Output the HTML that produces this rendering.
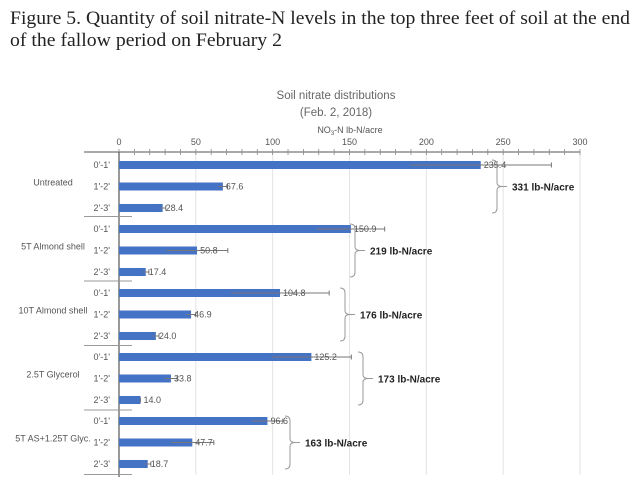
<!DOCTYPE html>
<html><head><meta charset="utf-8">
<style>
body{margin:0;background:#fff;width:640px;height:497px;overflow:hidden}
svg{display:block}
.t{font-family:"Liberation Sans",sans-serif;fill:#555;font-size:9px}
</style></head>
<body>
<svg id="chart" width="640" height="497">
<text x="10" y="24" font-family="Liberation Serif,serif" font-size="19" fill="#222" textLength="620" lengthAdjust="spacingAndGlyphs">Figure 5. Quantity of soil nitrate-N levels in the top three feet of soil at the end</text>
<text x="10" y="46" font-family="Liberation Serif,serif" font-size="19" fill="#222" textLength="272" lengthAdjust="spacingAndGlyphs">of the fallow period on February 2</text>
<text x="336" y="99" text-anchor="middle" font-family="Liberation Sans,sans-serif" font-size="11.5" fill="#666">Soil nitrate distributions</text>
<text x="336" y="116" text-anchor="middle" font-family="Liberation Sans,sans-serif" font-size="11.5" fill="#666">(Feb. 2, 2018)</text>
<text x="350" y="133" text-anchor="middle" class="t" font-size="8">NO<tspan font-size="6" dy="2">3</tspan><tspan dy="-2">-N lb-N/acre</tspan></text>
<g id="plot"></g>
</svg>
<script>
const groups=["Untreated","5T Almond shell","10T Almond shell","2.5T Glycerol","5T AS+1.25T Glyc."];
const depths=["0'-1'","1'-2'","2'-3'"];
const values=[235.4,67.6,28.4,150.9,50.8,17.4,104.8,46.9,24.0,125.2,33.8,14.0,96.6,47.7,18.7];
const errors=[46,3,2,22,20,2,32,3,2,26,4,0,10,14,2];
const totals=["331 lb-N/acre","219 lb-N/acre","176 lb-N/acre","173 lb-N/acre","163 lb-N/acre"];
const ticks=[0,50,100,150,200,250,300];
const brackX=[492,350,340,358,285];

const NS="http://www.w3.org/2000/svg";
const g=document.getElementById('plot');
const x=v=>119+v*(461/300);
const rowY=i=>165+Math.floor(i/3)*64+(i%3)*21.5;
function mk(tag,a,txt){const e=document.createElementNS(NS,tag);for(const k in a)e.setAttribute(k,a[k]);if(txt!=null)e.textContent=txt;g.appendChild(e);return e;}
ticks.forEach(t=>{
 const gl=mk('line',{x1:x(t),x2:x(t),y1:152,y2:475,stroke:'#e3e3e3','stroke-width':1});
 
 
 const tl=mk('text',{x:x(t),y:145,'text-anchor':'middle',class:'t','font-size':'9'},t);
 
 
});
const ax=mk('line',{x1:84,x2:x(300),y1:152,y2:152,stroke:'#777','stroke-width':1.2});


for(let t=0;t<=300;t+=10){const tk=mk('line',{x1:x(t),x2:x(t),y1:149,y2:155,stroke:'#888','stroke-width':0.8});
 
 }
const ya=mk('line',{x1:119,x2:119,y1:152,y2:477,stroke:'#555','stroke-width':1.2});


for(let k=1;k<=5;k++){const s=mk('line',{x1:84,x2:132,y1:152+k*64.5,y2:152+k*64.5,stroke:'#999','stroke-width':1});
 
 }
values.forEach((v,i)=>{
 const y=rowY(i);
 const b=mk('rect',{x:119,y:y-4,width:x(v)-119,height:8,fill:'#4472c4'});
 
 
 const e=errors[i];
 const eb=mk('path',{d:`M${x(v-e)} ${y}H${x(v+e)}M${x(v+e)} ${y-2.5}V${y+2.5}`,stroke:'#777','stroke-width':1,fill:'none'});
 
 
 const lb=mk('text',{x:x(v)+3,y:y+3,class:'t','font-size':'8'},v.toFixed(1));
 
 
 const dl=mk('text',{x:110,y:y+3,'text-anchor':'end',class:'t','font-size':'8.5',fill:'#444'},depths[i%3]);
 
 
});
groups.forEach((n,k)=>{
 const yc=rowY(k*3+1);
 const gl=mk('text',{x:53,y:yc-1,'text-anchor':'middle',class:'t','font-size':'8',fill:'#333'},n);
 
 
 const bx=brackX[k],y1=rowY(k*3)-5,y2=rowY(k*3+2)+5;
 const br=mk('path',{d:`M${bx} ${y1}Q${bx+5} ${y1} ${bx+5} ${y1+5}V${yc-4}Q${bx+5} ${yc} ${bx+10} ${yc}Q${bx+5} ${yc} ${bx+5} ${yc+4}V${y2-5}Q${bx+5} ${y2} ${bx} ${y2}M${bx+10} ${yc}h5`,stroke:'#999','stroke-width':1,fill:'none'});
 
 
 const tl=mk('text',{x:bx+20,y:yc+4,'font-family':'Liberation Sans,sans-serif','font-size':'10','font-weight':'bold',fill:'#222'},totals[k]);
 
 
});
</script>
</body></html>
